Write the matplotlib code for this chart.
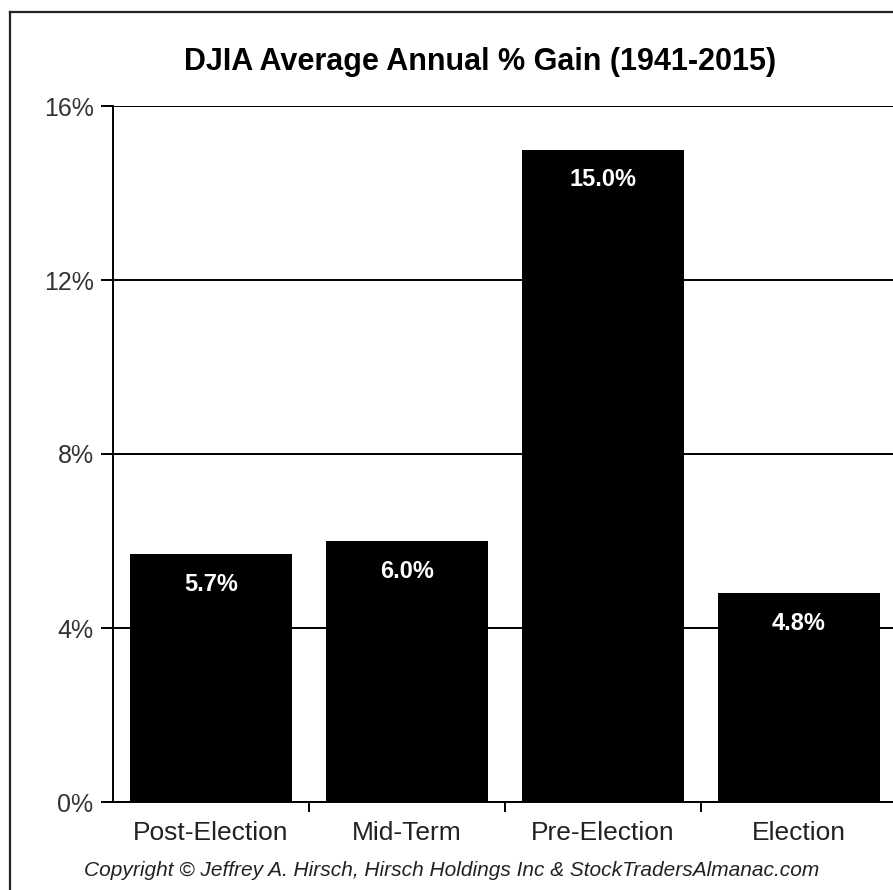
import matplotlib.pyplot as plt
from matplotlib.lines import Line2D
from matplotlib.ticker import FixedLocator

plt.rcParams["font.family"] = ["Liberation Sans", "DejaVu Sans"]

categories = ["Post-Election", "Mid-Term", "Pre-Election", "Election"]
gains = [5.7, 6.0, 15.0, 4.8]
yticks = [0, 4, 8, 12, 16]
ytick_labels = ["0%", "4%", "8%", "12%", "16%"]

fig = plt.figure(figsize=(8.93, 8.90), dpi=100)
fig.patch.set_facecolor("white")
# plot area runs slightly past the right edge, as in the cropped original
ax = fig.add_axes([113 / 893, 1 - 802 / 890, (897 - 113) / 893, (802 - 106) / 890])

x = range(len(categories))
bars = ax.bar(x, gains, width=0.83, color="black", zorder=3)

for b, v in zip(bars, gains):
    ax.annotate(f"{v:.1f}%", (b.get_x() + b.get_width() / 2, v),
                xytext=(0, -30), textcoords="offset pixels",
                ha="center", va="center", color="white",
                fontsize=17, fontweight="bold", zorder=4)

ax.set_xlim(-0.5, 3.5)
ax.set_ylim(0, 16)
ax.set_yticks(yticks)
ax.set_yticklabels(ytick_labels)
ax.yaxis.grid(True, color="black", linewidth=1.4, zorder=0)
ax.tick_params(axis="y", direction="out", length=9, width=1.4,
               labelsize=18, labelcolor="#333333", pad=5)

ax.set_xticks(list(x))
ax.set_xticklabels(categories)
ax.tick_params(axis="x", which="major", length=0, labelsize=19,
               labelcolor="#222222", pad=14)
ax.xaxis.set_minor_locator(FixedLocator([0.5, 1.5, 2.5]))
ax.tick_params(axis="x", which="minor", direction="out", length=7, width=1.4)

for side in ["top", "right"]:
    ax.spines[side].set_visible(False)
for side in ["left", "bottom"]:
    ax.spines[side].set_linewidth(1.4)
    ax.spines[side].set_color("black")

fig.text(480 / 893, 1 - 62 / 890, "DJIA Average Annual % Gain (1941-2015)",
         ha="center", va="center", fontsize=22, fontweight="bold")
fig.text(452 / 893, 1 - 870 / 890,
         "Copyright \u00a9 Jeffrey A. Hirsch, Hirsch Holdings Inc & StockTradersAlmanac.com",
         ha="center", va="center", fontsize=15, style="italic", color="#222222")

# outer frame (right and bottom edges are cropped in the original)
fig.add_artist(Line2D([10 / 893, 10 / 893], [0, 1 - 12 / 890],
                      color="#222222", linewidth=1.6, transform=fig.transFigure))
fig.add_artist(Line2D([10 / 893, 1], [1 - 12 / 890, 1 - 12 / 890],
                      color="#222222", linewidth=1.6, transform=fig.transFigure))

fig.savefig("out.png", dpi=100)
